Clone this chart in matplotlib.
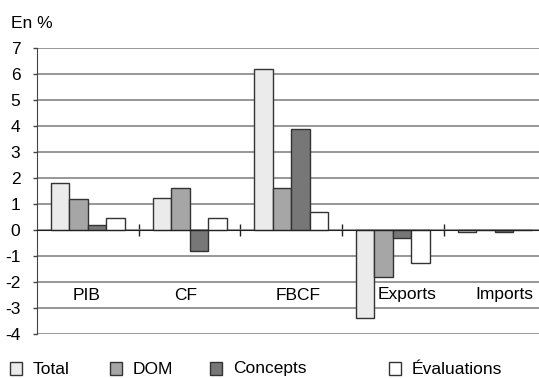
import matplotlib
matplotlib.use('Agg')
import matplotlib.pyplot as plt
from matplotlib.patches import Rectangle
import numpy as np

plt.rcParams['font.family'] = ['Liberation Sans', 'DejaVu Sans']
plt.rcParams['font.size'] = 12
plt.rcParams['axes.unicode_minus'] = False

# Contributions by component, in %
categories = ['PIB', 'CF', 'FBCF', 'Exports', 'Imports']
series_names = ['Total', 'DOM', 'Concepts', 'Évaluations']
total = [1.8, 1.25, 6.2, -3.4, -0.08]
dom = [1.2, 1.6, 1.6, -1.8, 0.0]
concepts = [0.2, -0.8, 3.9, -0.3, -0.08]
evaluations = [0.45, 0.45, 0.7, -1.25, 0.0]
yticks = list(range(-4, 8))

colors = ['#ebebeb', '#a6a6a6', '#777777', '#ffffff']
values = [total, dom, concepts, evaluations]

W, H = 539, 378
fig = plt.figure(figsize=(W / 100, H / 100), dpi=100)
ax = fig.add_axes([37 / W, 44 / H, 508.5 / W, 286 / H])

x = np.arange(len(categories))
bw = 0.182
for k, (vals, col) in enumerate(zip(values, colors)):
    ax.bar(x + (k - 1.5) * bw, vals, width=bw, color=col,
           edgecolor='#333333', linewidth=1, zorder=3)

ax.set_xlim(-0.5, len(categories) - 0.5)
ax.set_ylim(-4, 7)
ax.set_yticks(yticks)
ax.yaxis.grid(True, color='#7a7a7a', linewidth=1.1, zorder=0)
ax.set_axisbelow(True)

# x axis sits on the zero line, with ticks between categories
ax.spines['bottom'].set_position(('data', 0))
ax.spines['bottom'].set_color('#222222')
ax.spines['bottom'].set_zorder(4)
ax.set_xticks(x[:-1] + 0.5)
ax.set_xticklabels([])
ax.tick_params(axis='x', direction='inout', length=8, width=1,
               color='#222222')
ax.tick_params(axis='y', direction='out', length=3, width=1,
               color='#444444', pad=9, labelsize=12.5)
ax.spines['left'].set_color('#444444')
ax.spines['top'].set_visible(False)
ax.spines['right'].set_visible(False)

# category names drawn inside the plot area
label_x = [-0.15, -0.15, -0.15, -0.15, -0.19]
for i, (name, dx) in enumerate(zip(categories, label_x)):
    ax.text(i + dx, -2.5, name, ha='left', va='center', fontsize=12.5,
            zorder=5)

fig.text(11 / W, 1 - 24 / H, 'En %', ha='left', va='center', fontsize=12.5)

# legend row along the bottom
legend_x = [10, 110, 210, 389]
for px, name, col in zip(legend_x, series_names, colors):
    fig.patches.append(Rectangle((px / W, 3.5 / H), 12 / W, 13 / H,
                                 transform=fig.transFigure,
                                 facecolor=col, edgecolor='#333333',
                                 linewidth=1))
    fig.text((px + 23) / W, 9 / H, name, ha='left', va='center',
             fontsize=12.5)

fig.savefig('out.png', dpi=100)
